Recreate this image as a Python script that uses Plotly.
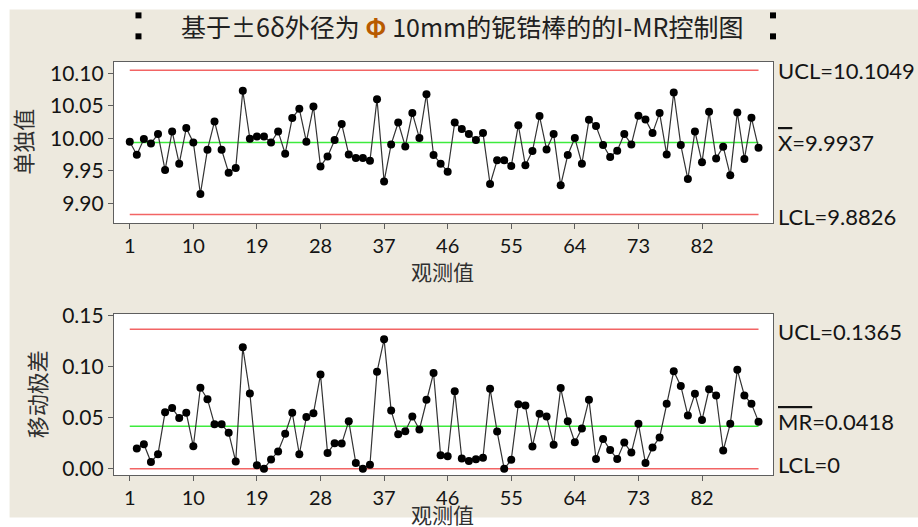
import numpy as np
import plotly.graph_objects as go

# Individual measurements of outer diameter (mm), observations 1..90
individual = [
    9.9949, 9.9749, 9.9990, 9.9923, 10.0067, 9.9513, 10.0108, 9.9610, 10.0159, 9.9938,
    9.9144, 9.9826, 10.0262, 9.9826, 9.9472, 9.9544, 10.0733, 9.9995, 10.0030, 10.0030,
    9.9938, 10.0108, 9.9764, 10.0313, 10.0456, 9.9949, 10.0492, 9.9569, 9.9723, 9.9974,
    10.0221, 9.9754, 9.9697, 9.9697, 9.9656, 10.0605, 9.9338, 9.9908, 10.0246, 9.9877,
    10.0390, 10.0005, 10.0682, 9.9744, 9.9610, 9.9487, 10.0246, 10.0144, 10.0067, 9.9974,
    10.0082, 9.9297, 9.9662, 9.9662, 9.9574, 10.0205, 9.9585, 9.9805, 10.0344, 9.9831,
    10.0067, 9.9277, 9.9744, 10.0005, 9.9610, 10.0287, 10.0190, 9.9897, 9.9713, 9.9810,
    10.0067, 9.9908, 10.0349, 10.0292, 10.0082, 10.0390, 9.9754, 10.0708, 9.9897, 9.9374,
    10.0108, 9.9631, 10.0410, 9.9692, 9.9872, 9.9431, 10.0400, 9.9682, 10.0318, 9.9856,
]
obs = list(range(1, len(individual) + 1))

# Control limits
i_ucl, i_center, i_lcl = 10.1049, 9.9937, 9.8826
mr_ucl, mr_center, mr_lcl = 0.1365, 0.0418, 0.0

x_ticks = [1, 10, 19, 28, 37, 46, 55, 64, 73, 82]
i_ticks = [9.90, 9.95, 10.00, 10.05, 10.10]
mr_ticks = [0.00, 0.05, 0.10, 0.15]

# Moving range of consecutive observations
moving_range = np.abs(np.diff(np.array(individual)))
mr_obs = obs[1:]

W, H = 918, 527
ML, MR_, MT, MB = 113.5, 145, 61.7, 51.5
PW, PH = W - ML - MR_, H - MT - MB


def px(x):
    return (x - ML) / PW


def py(y):
    return (H - MB - y) / PH


BEIGE = "#EDE9DE"
RED = "#F26464"
GREEN = "#3DEB3D"
FRAME = "#5E5E5E"
TXT = "#141414"
NUM_FONT = "Lato, Open Sans, sans-serif"
CJK_FONT = "Noto Sans CJK SC, sans-serif"

fig = go.Figure()

x_first, x_last = obs[0], obs[-1]

# Individual chart: limits, centre line, data
for val, col in [(i_ucl, RED), (i_lcl, RED), (i_center, GREEN)]:
    fig.add_trace(go.Scatter(x=[x_first, x_last], y=[val, val], mode="lines",
                             line=dict(color=col, width=1.5), xaxis="x", yaxis="y",
                             hoverinfo="skip", showlegend=False))
fig.add_trace(go.Scatter(x=obs, y=individual, mode="lines+markers",
                         line=dict(color="#333333", width=1.2),
                         marker=dict(color="black", size=8),
                         xaxis="x", yaxis="y", showlegend=False))

# Moving range chart
for val, col in [(mr_ucl, RED), (mr_lcl, RED), (mr_center, GREEN)]:
    fig.add_trace(go.Scatter(x=[x_first, x_last], y=[val, val], mode="lines",
                             line=dict(color=col, width=1.5), xaxis="x2", yaxis="y2",
                             hoverinfo="skip", showlegend=False))
fig.add_trace(go.Scatter(x=mr_obs, y=moving_range, mode="lines+markers",
                         line=dict(color="#333333", width=1.2),
                         marker=dict(color="black", size=8),
                         xaxis="x2", yaxis="y2", showlegend=False))

axis_common = dict(showline=True, mirror=True, linecolor=FRAME, linewidth=1.3,
                   ticks="outside", ticklen=5, tickcolor=FRAME, tickwidth=1.3,
                   showgrid=False, zeroline=False)

top_dom = [py(223.3), 1.0]
bot_dom = [0.0, py(314.0)]

fig.update_layout(
    width=W, height=H,
    margin=dict(l=ML, r=MR_, t=MT, b=MB),
    paper_bgcolor=BEIGE, plot_bgcolor="#FFFFFF",
    font=dict(family=NUM_FONT, color=TXT),
    xaxis=dict(**axis_common, domain=[0, 1], anchor="y", range=[-1.23, 92.05],
               tickvals=x_ticks, ticktext=[str(v) for v in x_ticks],
               tickfont=dict(size=20, family=NUM_FONT, color=TXT)),
    yaxis=dict(**axis_common, domain=top_dom, anchor="x", range=[9.8692, 10.1178],
               tickvals=i_ticks, ticktext=[f"{v:.2f}" for v in i_ticks],
               tickfont=dict(size=21, family=NUM_FONT, color=TXT)),
    xaxis2=dict(**axis_common, domain=[0, 1], anchor="y2", range=[-1.23, 92.05],
                tickvals=x_ticks, ticktext=[str(v) for v in x_ticks],
                tickfont=dict(size=20, family=NUM_FONT, color=TXT)),
    yaxis2=dict(**axis_common, domain=bot_dom, anchor="x2", range=[-0.006, 0.1517],
                tickvals=mr_ticks, ticktext=[f"{v:.2f}" for v in mr_ticks],
                tickfont=dict(size=21, family=NUM_FONT, color=TXT)),
)

# Thin white strips along the top, left and bottom page edges
for x0, x1, y0, y1 in [(-5, W + 5, -5, 9), (-5, 9, -5, H + 5), (-5, W + 5, 518, H + 5)]:
    fig.add_shape(type="rect", xref="paper", yref="paper", layer="below",
                  x0=px(x0), x1=px(x1), y0=py(y1), y1=py(y0),
                  fillcolor="#FFFFFF", line=dict(width=0))

# Small black handles beside the title
for hx in (138, 773):
    for hy in (15, 36):
        fig.add_shape(type="rect", xref="paper", yref="paper",
                      x0=px(hx - 3), x1=px(hx + 3), y0=py(hy + 3), y1=py(hy - 3),
                      fillcolor="black", line=dict(width=0))

annotations = []
annotations.append(dict(
    text="基于±6δ外径为 <span style='color:#B85A00'><b>Φ</b></span> 10mm的铌锆棒的的I-MR控制图",
    xref="paper", yref="paper", x=px(462), y=py(26), xanchor="center", yanchor="middle",
    showarrow=False, font=dict(size=25, family=CJK_FONT, color="#202020")))

# Axis titles
annotations.append(dict(text="单独值", xref="paper", yref="paper", x=px(22), y=py(142),
                        textangle=-90, showarrow=False, xanchor="center", yanchor="middle",
                        font=dict(size=22, family=CJK_FONT, color="#303030")))
annotations.append(dict(text="移动极差", xref="paper", yref="paper", x=px(35), y=py(395),
                        textangle=-90, showarrow=False, xanchor="center", yanchor="middle",
                        font=dict(size=22, family=CJK_FONT, color="#303030")))
annotations.append(dict(text="观测值", xref="paper", yref="paper", x=px(442), y=py(271),
                        showarrow=False, xanchor="center", yanchor="middle",
                        font=dict(size=21, family=CJK_FONT, color="#303030")))
annotations.append(dict(text="观测值", xref="paper", yref="paper", x=px(442), y=py(515),
                        showarrow=False, xanchor="center", yanchor="middle",
                        font=dict(size=21, family=CJK_FONT, color="#303030")))

# Control limit labels
lab_x = px(776)
lab_font = dict(size=22, family=NUM_FONT, color=TXT)
ov = "<span style='text-decoration:overline'>{}</span>"
for txt, val, yr, dy in [
    (f"UCL={i_ucl:.4f}", i_ucl, "y", 0),
    (ov.format("X") + f"={i_center:.4f}", i_center, "y", 0),
    (f"LCL={i_lcl:.4f}", i_lcl, "y", -2),
    (f"UCL={mr_ucl:.4f}", mr_ucl, "y2", -2),
    (ov.format("MR") + f"={mr_center:.4f}", mr_center, "y2", 5),
    (f"LCL={mr_lcl:g}", mr_lcl, "y2", 4),
]:
    annotations.append(dict(text=txt, xref="paper", yref=yr, x=lab_x, y=val,
                            xanchor="left", yanchor="middle", yshift=dy,
                            showarrow=False, font=lab_font))

fig.update_layout(annotations=annotations)

fig.write_html("out.html")
